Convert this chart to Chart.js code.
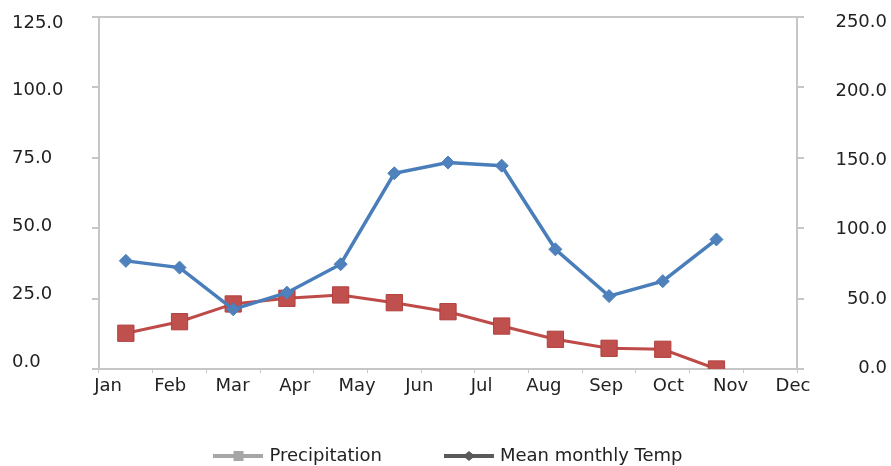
<!DOCTYPE html>
<html>
<head>
<meta charset="utf-8">
<script src="https://cdn.jsdelivr.net/npm/chart.js@4.4.1/dist/chart.umd.min.js"></script>
<style>
  html, body { margin: 0; padding: 0; background: #ffffff; }
  #wrap { width: 891px; height: 466px; position: relative; }
</style>
</head>
<body>
<div id="wrap"><canvas id="c" width="891" height="466"></canvas></div>
<script>
// ---- data ----
const months = ['Jan', 'Feb', 'Mar', 'Apr', 'May', 'Jun', 'Jul', 'Aug', 'Sep', 'Oct', 'Nov', 'Dec'];
const categorySlots = ['Jan', 'Feb', 'Mar', 'Apr', 'May', 'Jun', 'Jul', 'Aug', 'Sep', 'Oct', 'Nov', 'Dec', ''];
const temperature = [38.4, 36.0, 21.2, 27.1, 37.2, 69.5, 73.3, 72.2, 42.5, 25.9, 31.2, 46.0];
const precipitation = [25.4, 33.6, 46.2, 50.2, 52.6, 47.1, 40.7, 30.5, 21.1, 14.7, 14.0, 0];
const seriesNames = ['Precipitation', 'Mean monthly Temp'];
const leftStep = 25;
const rightStep = 50;

// ---- styling ----
const font = { family: 'DejaVu Sans', size: 18 };
const textColor = '#222222';
const axisGrey = '#c6c6c6';

function legendSwatch(color, shape) {
  const c = document.createElement('canvas');
  c.width = 50; c.height = 14;
  const g = c.getContext('2d');
  g.strokeStyle = color; g.lineWidth = 4;
  g.beginPath(); g.moveTo(0, 7); g.lineTo(50, 7); g.stroke();
  g.fillStyle = color;
  if (shape === 'square') {
    g.fillRect(20, 2, 10, 10);
  } else {
    g.beginPath(); g.moveTo(19, 7); g.lineTo(25, 2); g.lineTo(31, 7); g.lineTo(25, 12); g.closePath(); g.fill();
  }
  return c;
}
const swatchP = legendSwatch('#a6a6a6', 'square');
const swatchT = legendSwatch('#595959', 'diamond');

const ctx = document.getElementById('c').getContext('2d');
new Chart(ctx, {
  type: 'line',
  data: {
    labels: categorySlots,
    datasets: [
      {
        label: seriesNames[1],
        data: temperature,
        xAxisID: 'x', yAxisID: 'y',
        borderColor: '#4a7ebb', backgroundColor: '#4f81bd',
        borderWidth: 3.5, tension: 0,
        pointStyle: 'rectRot', pointRadius: 6.5,
        pointBackgroundColor: '#4f81bd', pointBorderColor: '#4a7ebb', pointBorderWidth: 1
      },
      {
        label: seriesNames[0],
        data: precipitation,
        xAxisID: 'x', yAxisID: 'y1',
        borderColor: '#be4b48', backgroundColor: '#c0504d',
        borderWidth: 3, tension: 0,
        pointStyle: 'rect', pointRadius: 11.5,
        pointBackgroundColor: '#c0504d', pointBorderColor: '#b0403d', pointBorderWidth: 1,
        clip: { left: 20, top: 20, right: 20, bottom: 0 }
      }
    ]
  },
  options: {
    responsive: false,
    animation: false,
    events: [],
    layout: { padding: { left: 12, right: 4, top: 17, bottom: -9 } },
    plugins: {
      tooltip: { enabled: false },
      legend: {
        position: 'bottom',
        labels: {
          usePointStyle: true,
          pointStyleWidth: 44,
          padding: 65,
          font: font,
          color: textColor,
          generateLabels: () => [
            { text: seriesNames[0], pointStyle: swatchP, fillStyle: '#a6a6a6', strokeStyle: '#a6a6a6', lineWidth: 0, hidden: false, datasetIndex: 1, fontColor: textColor },
            { text: seriesNames[1], pointStyle: swatchT, fillStyle: '#595959', strokeStyle: '#595959', lineWidth: 0, hidden: false, datasetIndex: 0, fontColor: textColor }
          ]
        }
      }
    },
    scales: {
      x: {
        type: 'category', position: 'bottom', weight: 0, offset: true,
        grid: { display: true, offset: true, drawOnChartArea: false, drawTicks: true, tickLength: 4, color: axisGrey, lineWidth: 1 },
        border: { display: true, color: axisGrey, width: 2 },
        ticks: { display: false },
        afterFit: s => { s.height = 5; }
      },
      x2: {
        type: 'linear', position: 'bottom', weight: 1,
        min: -0.145, max: 11.065,
        grid: { display: false }, border: { display: false },
        ticks: {
          stepSize: 1, includeBounds: false, autoSkip: false, maxRotation: 0,
          mirror: true, padding: -23,
          font: font, color: textColor,
          callback: v => months[v] !== undefined ? months[v] : ''
        },
        afterFit: s => { s.height = 8; }
      },
      y: {
        type: 'linear', position: 'left', weight: 0,
        min: 0, max: 125,
        ticks: { display: false, stepSize: leftStep },
        grid: {
          drawOnChartArea: true, drawTicks: true, tickLength: 7,
          color: c => (c.tick && c.tick.value === 125) ? axisGrey : 'rgba(0,0,0,0)',
          tickColor: axisGrey, lineWidth: 2
        },
        border: { display: true, color: axisGrey, width: 2 },
        afterFit: s => { s.width = 7; }
      },
      yLab: {
        type: 'linear', position: 'left', weight: 1,
        min: -2.58, max: 127.2,
        grid: { display: false }, border: { display: false },
        ticks: {
          stepSize: leftStep, includeBounds: false, crossAlign: 'far',
          font: font, color: textColor,
          callback: v => v.toFixed(1)
        },
        afterFit: s => { s.width = 80; }
      },
      y1: {
        type: 'linear', position: 'right', weight: 0,
        min: 0, max: 250,
        ticks: { display: false, stepSize: rightStep },
        grid: { drawOnChartArea: false, drawTicks: true, tickLength: 7, color: axisGrey, tickColor: axisGrey, lineWidth: 2 },
        border: { display: true, color: axisGrey, width: 2 },
        afterFit: s => { s.width = 7; }
      },
      y1Lab: {
        type: 'linear', position: 'right', weight: 1,
        min: -0.72, max: 254,
        grid: { display: false }, border: { display: false },
        ticks: {
          stepSize: rightStep, includeBounds: false, crossAlign: 'far',
          font: font, color: textColor,
          callback: v => v.toFixed(1)
        },
        afterFit: s => { s.width = 83; }
      }
    }
  }
});
</script>
</body>
</html>
